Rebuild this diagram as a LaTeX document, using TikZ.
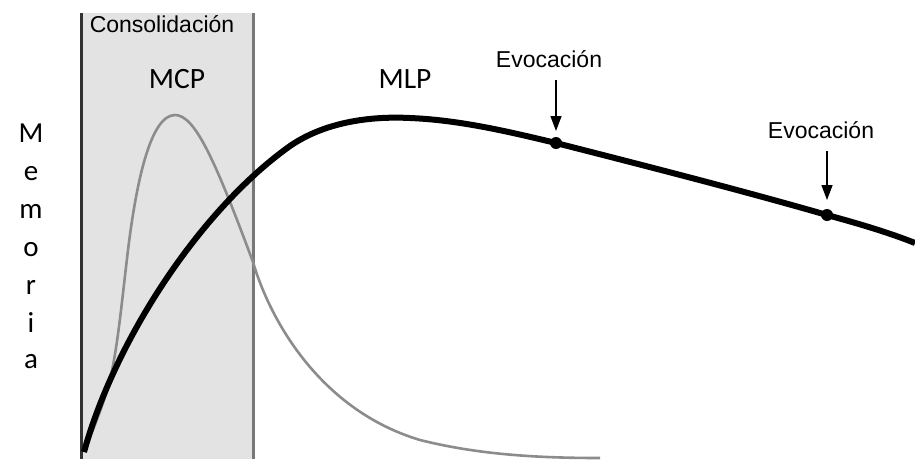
\documentclass[tikz,border=0pt]{standalone}
\usepackage{fontspec}
\setmainfont{Liberation Sans}
\newfontfamily\calib{Carlito}
\usetikzlibrary{arrows.meta}
\definecolor{boxgray}{HTML}{E3E3E3}
\definecolor{curvegray}{HTML}{8C8C8C}
\tikzset{
  lbl/.style={font=\fontsize{23}{26}\selectfont, inner sep=0pt},
  big/.style={font=\calib\fontsize{29.5}{32}\selectfont, inner sep=0pt},
  vlet/.style={font=\calib\fontsize{29}{32}\selectfont, inner sep=0pt, anchor=base},
  evarrow/.style={line width=1.4pt, -{Triangle[length=15pt,width=11pt]}},
  evdot/.style={circle, fill=black, inner sep=0pt, minimum size=12pt},
}
\begin{document}
\begin{tikzpicture}[x=1pt,y=-1pt]
\useasboundingbox (0,0) rectangle (915,459);
\fill[white] (0,0) rectangle (915,459);
% consolidation box
\fill[boxgray] (81,13) rectangle (253,459);
\draw[line width=3pt, draw={rgb,255:red,50;green,50;blue,50}] (81,13) -- (81,459);
\draw[line width=3pt, draw={rgb,255:red,120;green,120;blue,120}] (253,13) -- (253,459);
\node[lbl] (cons) at (162,24) {Consolidación};
\node[big] (mcp) at (177,79) {MCP};
\node[big] (mlp) at (405,79) {MLP};
% vertical label
\node[vlet] (m1) at (31,142) {M};
\node[vlet] (m2) at (31,180) {e};
\node[vlet] (m3) at (31,218) {m};
\node[vlet] (m4) at (31,256) {o};
\node[vlet] (m5) at (31,294) {r};
\node[vlet] (m6) at (31,332) {i};
\node[vlet] (m7) at (31,368) {a};
% gray curve (MCP)
\draw[curvegray, line width=2.6pt, line join=round]
  (84,452) .. controls (95,425) and (105,400) .. (110,380)
  .. controls (118,345) and (122,300) .. (128,250)
  .. controls (136,185) and (150,115) .. (175,115)
  .. controls (195,115) and (215,160) .. (253,262)
  .. controls (270,320) and (320,410) .. (420,440)
  .. controls (480,455) and (540,458) .. (600,458);
% black curve (MLP)
\draw[black, line width=6pt, line join=round]
  (84,452) .. controls (115,340) and (200,210) .. (290,146)
  .. controls (325,122) and (370,116) .. (410,118)
  .. controls (460,120) and (510,132) .. (556,143)
  .. controls (650,167) and (740,190) .. (827,215)
  .. controls (860,224) and (890,233) .. (915,243);
\node[evdot] (d1) at (556,143) {};
\node[evdot] (d2) at (827,215) {};
\node[lbl] (ev1) at (549,59) {Evocación};
\node[lbl] (ev2) at (821,130) {Evocación};
\coordinate (a1s) at (556,80);
\coordinate (a1e) at (556,131);
\coordinate (a2s) at (827,151);
\coordinate (a2e) at (827,200);
\draw[evarrow] (a1s) -- (a1e);
\draw[evarrow] (a2s) -- (a2e);
\end{tikzpicture}
\end{document}
